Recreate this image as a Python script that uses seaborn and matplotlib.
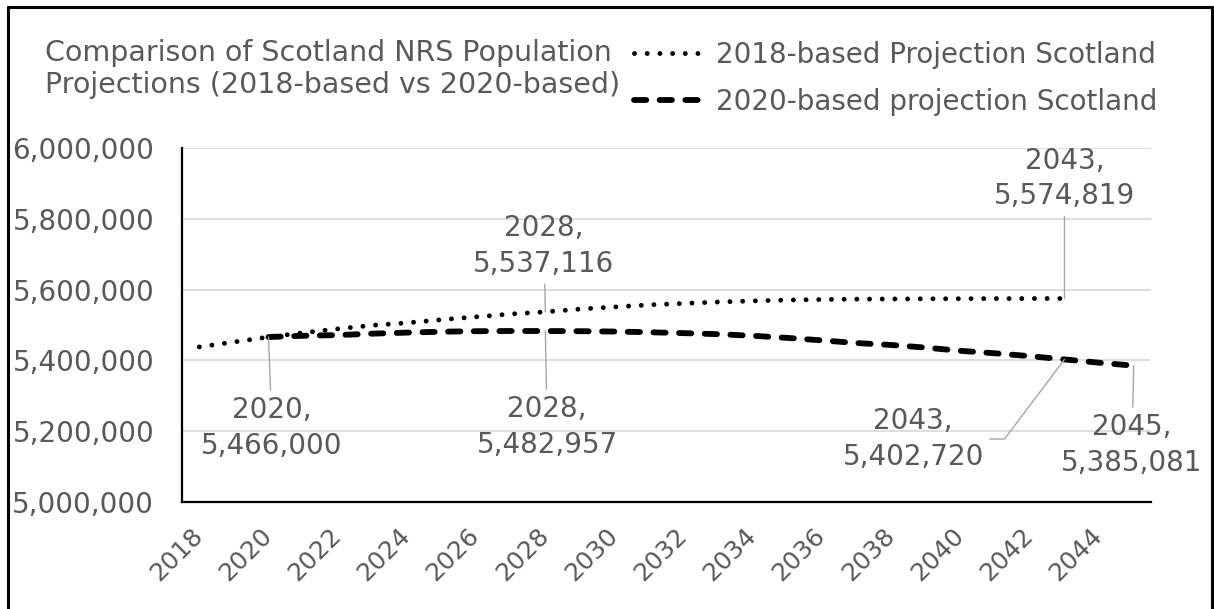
import numpy as np
import pandas as pd
import seaborn as sns
import matplotlib
matplotlib.use("Agg")
from matplotlib import pyplot as plt
from matplotlib.lines import Line2D
from matplotlib.ticker import FuncFormatter
from matplotlib.transforms import ScaledTranslation

# values
years_2018 = list(range(2018, 2044))
pop_2018 = [5438100, 5452000, 5466000, 5478000, 5489000, 5499000, 5506000, 5515000,
            5523000, 5531000, 5537116, 5545000, 5551000, 5557000, 5561000, 5565000,
            5568000, 5570500, 5572000, 5573000, 5573500, 5574000, 5574300, 5574600,
            5574800, 5574819]
years_2020 = list(range(2020, 2046))
pop_2020 = [5466000, 5469500, 5471500, 5475500, 5478500, 5481000, 5482500, 5483000,
            5482957, 5482500, 5481500, 5479500, 5477000, 5474000, 5469500, 5463500,
            5456500, 5449000, 5443500, 5436000, 5427000, 5420000, 5412000, 5402720,
            5393500, 5385081]
label_2018 = "2018-based Projection Scotland"
label_2020 = "2020-based projection Scotland"
title = "Comparison of Scotland NRS Population\nProjections (2018-based vs 2020-based)"
x_ticks = list(range(2018, 2045, 2))
y_ticks = [5000000, 5200000, 5400000, 5600000, 5800000, 6000000]

df_2018 = pd.DataFrame({"Year": years_2018, "Population": pop_2018})
df_2020 = pd.DataFrame({"Year": years_2020, "Population": pop_2020})

sns.set_style("white")
plt.rcParams["font.family"] = ["DejaVu Sans"]
GREY = "#595959"

fig = plt.figure(figsize=(12.14, 6.09), dpi=100)
ax = fig.add_axes([0.1499, 0.1757, 0.7982, 0.5813])

sns.lineplot(data=df_2018, x="Year", y="Population", ax=ax, color="black",
             linewidth=3.5, linestyle=(0, (0.01, 2.6)), dash_capstyle="round",
             label=label_2018, legend=False)
sns.lineplot(data=df_2020, x="Year", y="Population", ax=ax, color="black",
             linewidth=4.2, linestyle=(0, (2.1, 2.3)), dash_capstyle="round",
             label=label_2020, legend=False)

ax.set_xlim(2017.5, 2045.5)
ax.set_ylim(5000000, 6000000)
ax.set_xticks(x_ticks)
ax.set_yticks(y_ticks)
ax.yaxis.set_major_formatter(FuncFormatter(lambda v, p: f"{int(v):,}"))
ax.set_xlabel("")
ax.set_ylabel("")
ax.grid(axis="y", color="#d9d9d9", linewidth=1.2)
ax.grid(axis="x", visible=False)
ax.set_axisbelow(True)
for side in ["top", "right"]:
    ax.spines[side].set_visible(False)
for side in ["left", "bottom"]:
    ax.spines[side].set_color("black")
    ax.spines[side].set_linewidth(1.6)
ax.tick_params(axis="y", length=0, pad=20, labelsize=20, labelcolor=GREY)
ax.tick_params(axis="x", length=0, pad=20, labelsize=18, labelcolor=GREY)
shift = ScaledTranslation(-9 / 100, 6 / 100, fig.dpi_scale_trans)
for lab in ax.get_xticklabels():
    lab.set_rotation(45)
    lab.set_ha("right")
    lab.set_va("top")
    lab.set_rotation_mode("anchor")
    lab.set_transform(lab.get_transform() + shift)

# data labels with leader lines
lead = dict(arrowstyle="-", color="#a6a6a6", lw=1.0, shrinkA=2, shrinkB=0)
txt = dict(fontsize=20, color=GREY, ha="center", va="center", linespacing=1.35)
ax.annotate("2020,\n5,466,000", xy=(2020, 5466000), xytext=(2020.1, 5209000),
            arrowprops=lead, **txt)
ax.annotate("2028,\n5,537,116", xy=(2028, 5537116), xytext=(2027.96, 5723000),
            arrowprops=lead, **txt)
ax.annotate("2028,\n5,482,957", xy=(2028, 5482957), xytext=(2028.05, 5211800),
            arrowprops=lead, **txt)
ax.annotate("2043,\n5,574,819", xy=(2043, 5574819), xytext=(2043.0, 5913800),
            arrowprops=lead, **txt)
ax.annotate("2043,\n5,402,720", xy=(2043, 5402720), xytext=(2038.63, 5178000),
            arrowprops=dict(lead, relpos=(1.0, 0.5),
                            connectionstyle="angle,angleA=0,angleB=53,rad=0"),
            **txt)
ax.annotate("2045,\n5,385,081", xy=(2045, 5385081), xytext=(2044.95, 5161000),
            arrowprops=lead, **txt)

# title and legend
fig.text(45 / 1214, 1 - 69 / 609, title, fontsize=20.5, color=GREY,
         ha="left", va="center", linespacing=1.15)
handles, labels = ax.get_legend_handles_labels()
fig.legend(handles, labels, loc="upper left",
           bbox_to_anchor=(634 / 1214, 1 - 41 / 609), frameon=False,
           fontsize=20, labelcolor=GREY, handlelength=2.5, handletextpad=0.45,
           labelspacing=0.68, borderpad=0, borderaxespad=0)

# outer frame (open at the bottom, as in the reference)
for xs, ys in [([8, 8], [-5, 602]), ([8, 1212], [602, 602]), ([1212, 1212], [602, -5])]:
    fig.add_artist(Line2D(np.array(xs) / 1214, np.array(ys) / 609,
                          color="black", linewidth=2.2, transform=fig.transFigure))

fig.savefig("out.png", dpi=100)
